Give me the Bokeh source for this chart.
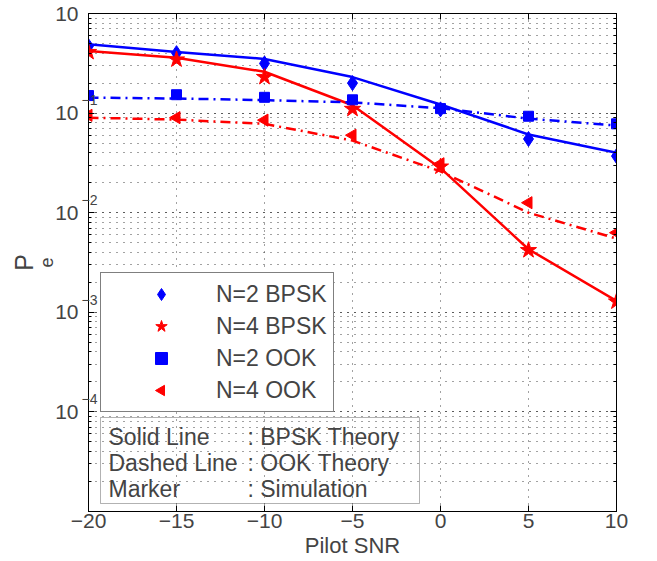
import numpy as np
from bokeh.plotting import figure
from bokeh.models import (LinearAxis, LogAxis, SingleIntervalTicker, LogTicker,
                          CustomJSTickFormatter, Legend, LegendItem, Label,
                          BoxAnnotation, Range1d, Title)
from bokeh.embed import file_html
from bokeh.resources import INLINE

# ---------------- data ----------------
snr = [-20, -15, -10, -5, 0, 5, 10]
bpsk_n2_theory = [0.49, 0.41, 0.35, 0.23, 0.122, 0.061, 0.040]
bpsk_n2_sim = [0.47, 0.40, 0.315, 0.20, 0.109, 0.055, 0.037]
bpsk_n4_theory = [0.42, 0.36, 0.26, 0.12, 0.028, 0.0043, 0.0013]
bpsk_n4_sim = [0.41, 0.345, 0.23, 0.11, 0.029, 0.0042, 0.00128]
ook_n2_theory = [0.143, 0.14, 0.135, 0.128, 0.112, 0.088, 0.075]
ook_n2_sim = [0.15, 0.153, 0.144, 0.136, 0.111, 0.093, 0.078]
ook_n4_theory = [0.090, 0.086, 0.078, 0.053, 0.026, 0.010, 0.0055]
ook_n4_sim = [0.095, 0.090, 0.085, 0.060, 0.031, 0.0126, 0.0063]

legend_labels = ["N=2 BPSK", "N=4 BPSK", "N=2 OOK", "N=4 OOK"]
note_left = ["Solid Line", "Dashed Line", "Marker"]
note_right = [": BPSK Theory", ": OOK Theory", ": Simulation"]
x_label = "Pilot SNR"
y_label_main, y_label_sub = "P", "e"

FONT = "Liberation Sans"
BLUE = "#0000ff"
RED = "#ff0000"
DASHDOT = "10 5 2 5"
GRID = "#444444"

p = figure(width=657, height=561, output_backend="svg", toolbar_location=None,
           y_axis_type="log", x_range=Range1d(-20, 10), y_range=Range1d(1e-5, 1),
           min_border_left=88, min_border_right=41, min_border_top=13,
           min_border_bottom=50, background_fill_color="white",
           border_fill_color="white", outline_line_color="black",
           outline_line_width=1)

xticker = SingleIntervalTicker(interval=5, num_minor_ticks=0)
yticker = LogTicker(desired_num_ticks=6, num_minor_ticks=10)

xfmt = CustomJSTickFormatter(code="return tick < 0 ? '\u2212' + Math.abs(tick) : String(tick);")
# exponent part of the y tick labels (10^0 is cut off in the reference, 10^-5 not shown)
expfmt = CustomJSTickFormatter(code="""
const e = Math.round(Math.log10(tick));
return (e < 0 && e > -5) ? '\u2212' + Math.abs(e) + '\\n ' : '';
""")
basefmt = CustomJSTickFormatter(code="return tick > 3e-5 ? '10' : '';")
blankfmt = CustomJSTickFormatter(code="return '';")

# bottom axis
xa = p.xaxis[0]
xa.ticker = xticker
xa.formatter = xfmt
xa.axis_label = x_label
xa.axis_label_text_font = FONT
xa.axis_label_text_font_size = "22px"
xa.axis_label_text_font_style = "normal"
xa.axis_label_standoff = 2
xa.major_label_text_font = FONT
xa.major_label_text_font_size = "21px"
xa.major_label_standoff = 2
xa.major_tick_in = 6
xa.major_tick_out = 0
xa.minor_tick_line_color = None
xa.axis_line_color = "black"

# left axis (ticks + exponents)
ya = p.yaxis[0]
ya.ticker = yticker
ya.formatter = expfmt
ya.major_label_text_font = FONT
ya.major_label_text_font_size = "14px"
ya.major_label_text_line_height = 1.6
ya.major_label_standoff = -9
ya.major_tick_in = 6
ya.major_tick_out = 0
ya.minor_tick_in = 3
ya.minor_tick_out = 0

# second left axis carrying the "10" base of the labels
yb = LogAxis(ticker=yticker, formatter=basefmt, major_label_text_font=FONT,
             major_label_text_font_size="21px", major_label_standoff=0,
             axis_line_color=None, major_tick_line_color=None,
             minor_tick_line_color=None, major_tick_in=0, major_tick_out=0,
             minor_tick_in=0, minor_tick_out=0)
p.add_layout(yb, "left")

# y axis label P_e
p.add_layout(Title(text=y_label_sub, align="center", offset=6, standoff=0,
                   text_font=FONT, text_font_size="18px", text_font_style="normal"), "left")
p.add_layout(Title(text=y_label_main, align="center", offset=-12, standoff=0,
                   text_font=FONT, text_font_size="25px", text_font_style="normal"), "left")

# top and right axes: ticks only
top = LinearAxis(ticker=xticker, formatter=blankfmt, major_label_text_font_size="8px",
                 major_label_text_color=None, major_label_standoff=0,
                 major_tick_in=6, major_tick_out=0, minor_tick_line_color=None)
right = LogAxis(ticker=yticker, formatter=blankfmt, major_label_text_font_size="8px",
                major_label_text_color=None, major_label_standoff=0,
                major_tick_in=6, major_tick_out=0, minor_tick_in=3, minor_tick_out=0)
p.add_layout(top, "above")
p.add_layout(right, "right")

# grid
p.xgrid.ticker = xticker
p.xgrid.grid_line_color = GRID
p.xgrid.grid_line_dash = "1 6"
p.ygrid.grid_line_color = GRID
p.ygrid.grid_line_dash = "1 6"
p.ygrid.minor_grid_line_color = GRID
p.ygrid.minor_grid_line_dash = "1 6"

# theory lines
p.line(snr, bpsk_n2_theory, color=BLUE, line_width=2.5)
p.line(snr, bpsk_n4_theory, color=RED, line_width=2.5)
p.line(snr, ook_n2_theory, color=BLUE, line_width=2.5, line_dash=DASHDOT)
p.line(snr, ook_n4_theory, color=RED, line_width=2.5, line_dash=DASHDOT)

# simulation markers
r1 = p.scatter(snr, bpsk_n2_sim, marker="diamond", size=15, color=BLUE)
r2 = p.scatter(snr, bpsk_n4_sim, marker="star", size=17, color=RED)
r3 = p.scatter(snr, ook_n2_sim, marker="square", size=10, color=BLUE)
r4 = p.ngon(snr, ook_n4_sim, radius=7, radius_units="screen", n=3, angle=np.pi / 2,
            color=RED)

legend = Legend(items=[LegendItem(label=l, renderers=[r]) for l, r in
                       zip(legend_labels, [r1, r2, r3, r4])],
                location=(12, 99), padding=6, spacing=2, glyph_width=108,
                glyph_height=30, label_height=30, label_standoff=1, margin=0,
                label_text_font=FONT, label_text_font_size="23px",
                border_line_color="black", border_line_width=1,
                background_fill_color="white", background_fill_alpha=1.0)
p.add_layout(legend)

# explanatory note box
p.add_layout(BoxAnnotation(left=12, right=331, bottom=8, top=94,
                           left_units="screen", right_units="screen",
                           bottom_units="screen", top_units="screen",
                           fill_color=None, line_color="black", line_width=1))
for i, (a, b) in enumerate(zip(note_left, note_right)):
    yy = 75 - 26 * i
    p.add_layout(Label(x=20, y=yy, x_units="screen", y_units="screen", text=a,
                       text_baseline="middle", text_font=FONT, text_font_size="23px"))
    p.add_layout(Label(x=159, y=yy, x_units="screen", y_units="screen", text=b,
                       text_baseline="middle", text_font=FONT, text_font_size="23px"))

open("out.html", "w").write(file_html(p, INLINE))
